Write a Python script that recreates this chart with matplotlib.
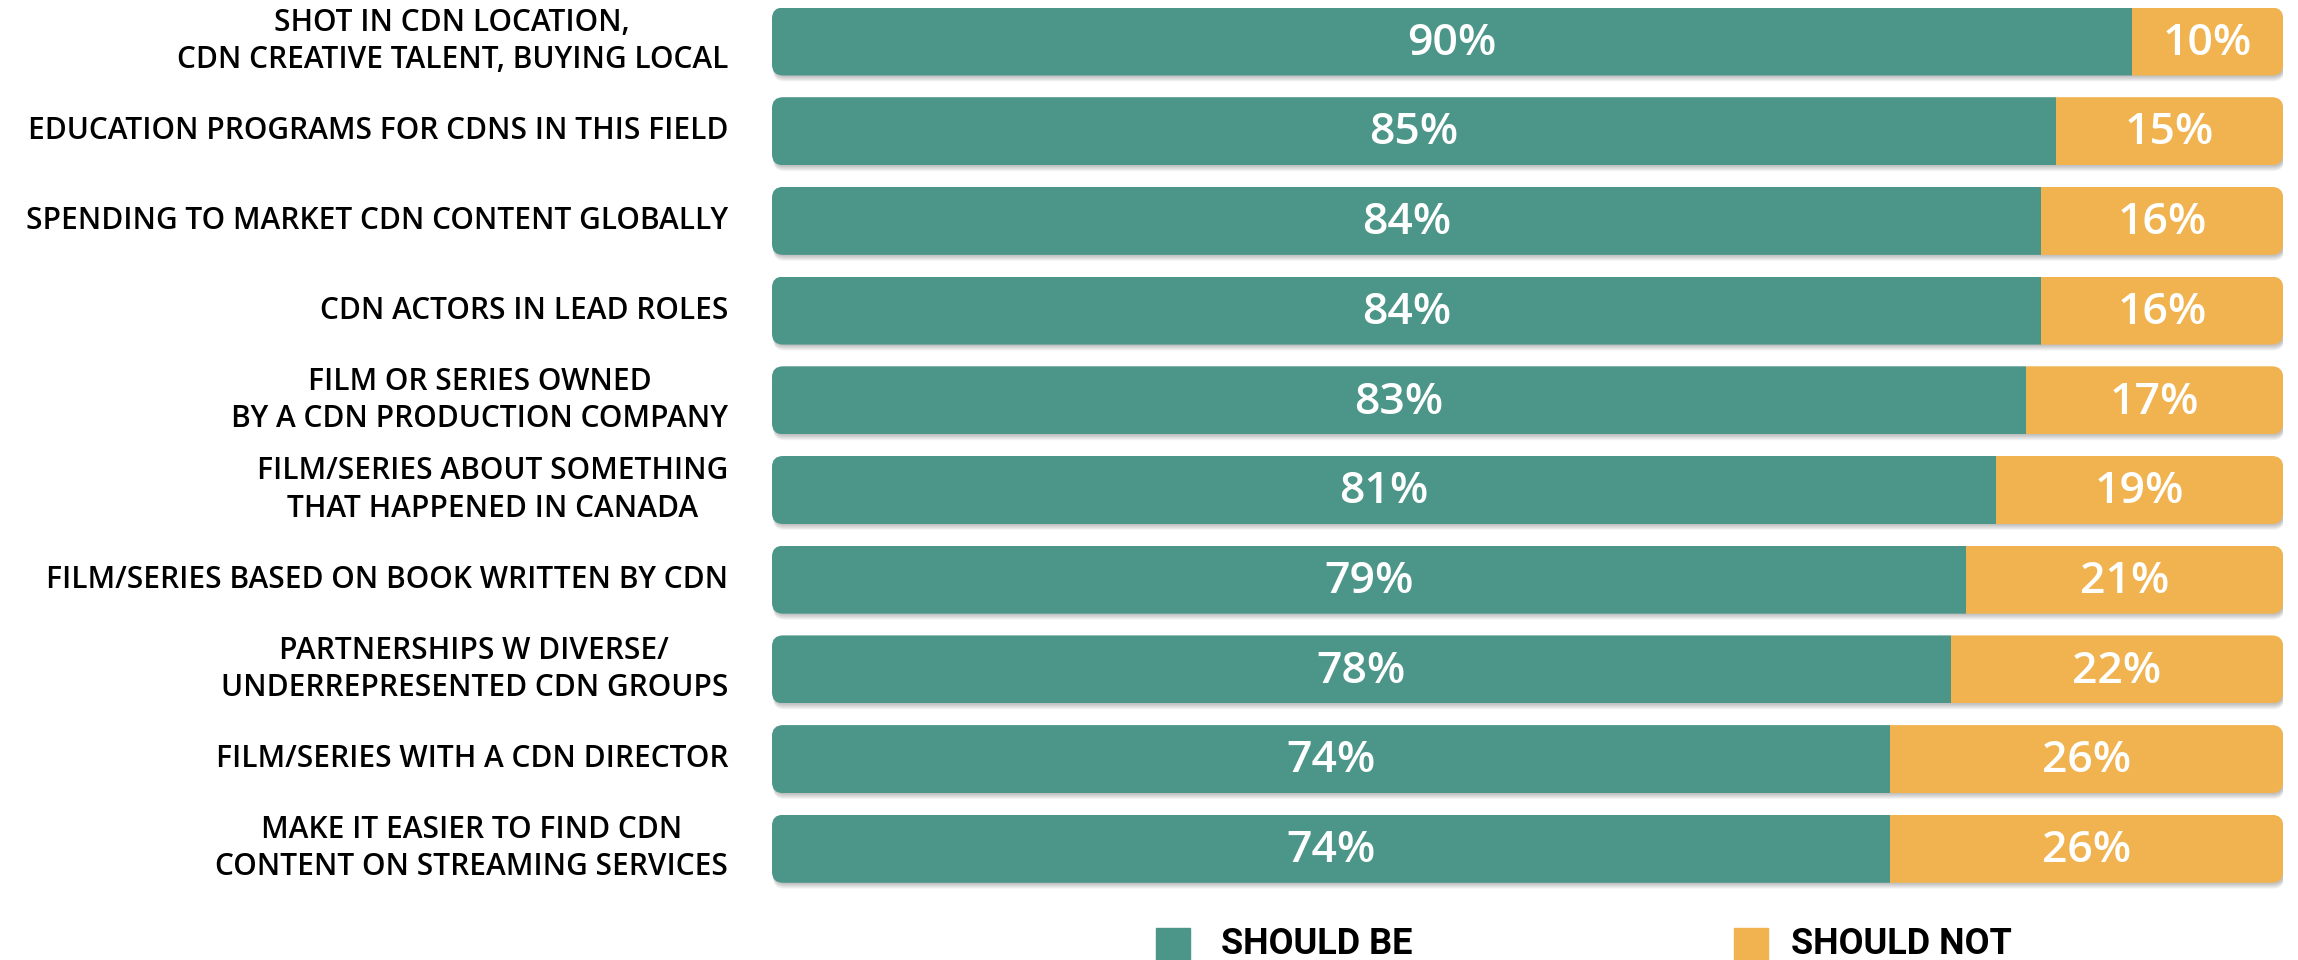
import numpy as np
import matplotlib
matplotlib.use("Agg")
import matplotlib.pyplot as plt
from matplotlib.patches import FancyBboxPatch, Rectangle

#survey items, top to bottom
labels = [
    "SHOT IN CDN LOCATION,\nCDN CREATIVE TALENT, BUYING LOCAL",
    "EDUCATION PROGRAMS FOR CDNS IN THIS FIELD",
    "SPENDING TO MARKET CDN CONTENT GLOBALLY",
    "CDN ACTORS IN LEAD ROLES",
    "FILM OR SERIES OWNED\nBY A CDN PRODUCTION COMPANY",
    "FILM/SERIES ABOUT SOMETHING\nTHAT HAPPENED IN CANADA",
    "FILM/SERIES BASED ON BOOK WRITTEN BY CDN",
    "PARTNERSHIPS W DIVERSE/\nUNDERREPRESENTED CDN GROUPS",
    "FILM/SERIES WITH A CDN DIRECTOR",
    "MAKE IT EASIER TO FIND CDN\nCONTENT ON STREAMING SERVICES",
]
should_be = [90, 85, 84, 84, 83, 81, 79, 78, 74, 74]
should_not = [10, 15, 16, 16, 17, 19, 21, 22, 26, 26]
legend_labels = ["SHOULD BE", "SHOULD NOT"]

teal = "#4c9689"
orange = "#f0b350"
label_font = ["Open Sans", "DejaVu Sans"]
legend_font = ["Liberation Sans Narrow", "Roboto", "DejaVu Sans"]

W, H = 2298, 960
fig = plt.figure(figsize=(W / 100, H / 100), dpi=100)
fig.patch.set_facecolor("white")

#plot area in pixels
x0, x1 = 772, 2283
first_row, row_step = 41.5, 89.7
bar_h = 68 / row_step

ax = fig.add_axes([x0 / W, 0, (x1 - x0) / W, 1])
ax.set_xlim(0, 100)
ax.set_ylim((H - first_row) / row_step, -first_row / row_step)
ax.axis("off")

n = len(labels)
y = np.arange(n)

#corner radius in pixels -> data units
px_x = (x1 - x0) / 100.0
px_y = row_step
radius = 11
r_x = radius / px_x
aspect = (radius / px_y) / r_x

def rounded(yc, dy=0.0, **kw):
    return FancyBboxPatch((0, yc - bar_h / 2 + dy), 100, bar_h,
                          boxstyle=f"round,pad=0,rounding_size={r_x}",
                          mutation_aspect=aspect, transform=ax.transData, **kw)

#soft drop shadow under each bar
for yc in y:
    for off in [1, 2, 3, 4, 5, 6]:
        p = rounded(yc, dy=off / px_y, facecolor="black", edgecolor="none",
                    alpha=0.045, zorder=1)
        p.set_x(p.get_x() + 1.2 / px_x)
        ax.add_patch(p)

b1 = ax.barh(y, should_be, height=bar_h, color=teal, zorder=2)
b2 = ax.barh(y, should_not, left=should_be, height=bar_h, color=orange, zorder=2)

#clip the stacked bars to a rounded outline
for i, yc in enumerate(y):
    clip = rounded(yc, facecolor="none", edgecolor="none")
    b1[i].set_clip_path(clip)
    b2[i].set_clip_path(clip)

for i in range(n):
    ax.text(should_be[i] / 2, y[i] + 0.02, f"{should_be[i]}%", ha="center", va="center",
            color="white", fontsize=32, family=label_font, fontweight="semibold", zorder=3)
    ax.text(should_be[i] + should_not[i] / 2, y[i] + 0.02, f"{should_not[i]}%", ha="center",
            va="center", color="white", fontsize=32, family=label_font,
            fontweight="semibold", zorder=3)
    ax.text(-44 / px_x, y[i], labels[i], ha="right", va="center", multialignment="center",
            fontsize=21.5, family=label_font, fontweight="semibold", color="black",
            linespacing=1.32, clip_on=False)

#legend along the bottom edge
for sx, txt_x, col, txt in [(1156, 1221, teal, legend_labels[0]),
                            (1734, 1791, orange, legend_labels[1])]:
    fig.patches.append(Rectangle((sx / W, 0), 34 / W, 1 - 928 / H,
                                 transform=fig.transFigure, color=col))
    fig.text(txt_x / W, 1 - 926 / H, txt, ha="left", va="top", fontsize=26,
             family=legend_font, fontweight="bold", color="black")

fig.savefig("out.png", dpi=100, facecolor="white")
